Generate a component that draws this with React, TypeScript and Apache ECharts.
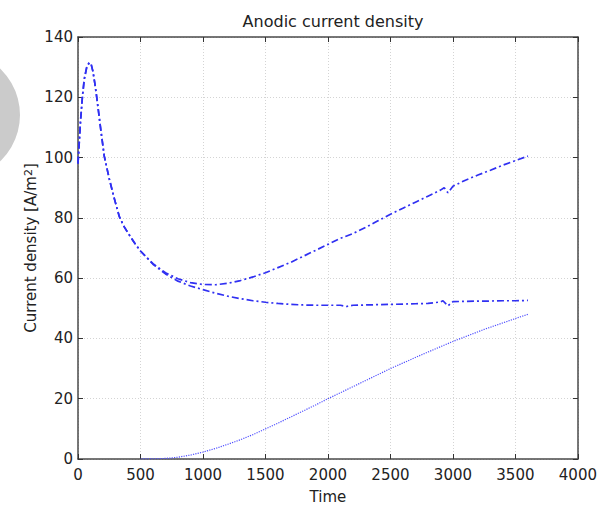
import React, { useEffect, useRef } from "react";
import * as echarts from "echarts";

const xTicks = [0, 500, 1000, 1500, 2000, 2500, 3000, 3500, 4000];
const yTicks = [0, 20, 40, 60, 80, 100, 120, 140];

const timeUpper = [0, 10, 20, 35, 50, 70, 90, 105, 120, 135, 150, 180, 210, 250, 290, 330, 370, 400, 450, 500, 600, 700, 800, 900, 1000, 1100, 1200, 1300, 1400, 1500, 1600, 1700, 1800, 1900, 2000, 2100, 2150, 2200, 2300, 2400, 2500, 2600, 2700, 2800, 2900, 2930, 2960, 3000, 3100, 3200, 3300, 3400, 3500, 3600];
const valUpper = [98, 105, 112, 120, 126, 130, 131.5, 131, 128.5, 124.5, 120, 110, 100.5, 93, 86.5, 80.5, 77, 75, 71.8, 69, 64.8, 61.8, 59.8, 58.5, 57.9, 57.8, 58.3, 59.2, 60.4, 61.8, 63.5, 65.2, 67.2, 69.2, 71.2, 73.2, 74.0, 74.8, 76.8, 79, 81.2, 83.2, 85.2, 87.2, 89.2, 90, 88.3, 90.5, 92.5, 94.2, 95.8, 97.5, 99, 100.5];

const timeLower = [0, 10, 20, 35, 50, 70, 90, 105, 120, 135, 150, 180, 210, 250, 290, 330, 370, 400, 450, 500, 600, 700, 800, 900, 1000, 1100, 1200, 1300, 1400, 1500, 1600, 1700, 1800, 1900, 2000, 2100, 2150, 2200, 2300, 2400, 2500, 2600, 2700, 2800, 2900, 2920, 2960, 3000, 3100, 3200, 3300, 3400, 3500, 3600];
const valLower = [98, 105, 112, 120, 126, 130, 131.5, 131, 128.5, 124.5, 120, 110, 100.5, 93, 86.5, 80.5, 77, 75, 71.8, 69, 64.6, 61.4, 59.0, 57.4, 56.2, 55.0, 54.0, 53.2, 52.5, 52.0, 51.6, 51.3, 51.1, 51.0, 51.0, 51.0, 50.6, 51.0, 51.1, 51.2, 51.3, 51.4, 51.5, 51.6, 52.1, 52.5, 50.8, 52.2, 52.3, 52.4, 52.4, 52.5, 52.5, 52.6];

const timeDotted = [500, 600, 700, 750, 800, 900, 1000, 1100, 1200, 1300, 1400, 1500, 1600, 1700, 1800, 1900, 2000, 2250, 2500, 2750, 3000, 3250, 3500, 3600];
const valDotted = [0, 0.05, 0.2, 0.35, 0.6, 1.3, 2.3, 3.5, 4.9, 6.4, 8.1, 10, 11.9, 13.9, 15.9, 17.9, 20, 25, 30, 34.6, 39, 43, 46.6, 48];

const FONT = "DejaVu Sans";
const BLUE = "#3030f2";

function pairs(xs: number[], ys: number[]) {
  return xs.map((x, i) => [x, ys[i]]);
}

export default function App() {
  const ref = useRef<HTMLDivElement>(null);
  useEffect(() => {
    if (!ref.current) return;
    const chart = echarts.init(ref.current, undefined, { renderer: "svg" });
    const axisLine = { show: true, onZero: false, lineStyle: { color: "#4a4a4a", width: 1.5 } };
    const tick = { show: true, inside: true, length: 5, lineStyle: { color: "#333", width: 1 } };
    const labelStyle = { color: "#222", fontFamily: FONT, fontSize: 15 };
    const plain = (v: number) => String(v);
    chart.setOption({
      animation: false,
      backgroundColor: "#ffffff",
      title: {
        text: "Anodic current density",
        left: 328,
        textAlign: "center",
        top: 8,
        textStyle: { fontFamily: FONT, fontSize: 16, fontWeight: "normal", color: "#222" },
      },
      graphic: [
        {
          type: "circle",
          shape: { cx: -44, cy: 115, r: 64 },
          style: { fill: "#cbcbcb" },
          z: -1,
        },
      ],
      grid: { left: 78, right: 22, top: 37, bottom: 48, containLabel: false },
      xAxis: [
        {
          type: "value",
          min: xTicks[0],
          max: xTicks[xTicks.length - 1],
          interval: 500,
          name: "Time",
          nameLocation: "middle",
          nameGap: 30,
          nameMoveOverlap: false,
          nameTextStyle: { ...labelStyle },
          axisLine,
          axisTick: tick,
          axisLabel: { ...labelStyle, margin: 8, formatter: plain },
          splitLine: { show: true, lineStyle: { color: "#d4d4d4", type: [1, 2], width: 1 } },
        },
        {
          type: "value",
          position: "top",
          min: xTicks[0],
          max: xTicks[xTicks.length - 1],
          interval: 500,
          axisLine,
          axisTick: tick,
          axisLabel: { show: false },
          splitLine: { show: false },
        },
      ],
      yAxis: [
        {
          type: "value",
          min: yTicks[0],
          max: yTicks[yTicks.length - 1],
          interval: 20,
          name: "Current density [A/m{sup|2}]",
          nameLocation: "middle",
          nameGap: 40,
          nameMoveOverlap: false,
          nameTextStyle: {
            ...labelStyle,
            rich: {
              sup: { fontFamily: FONT, fontSize: 11, color: "#222", verticalAlign: "top", lineHeight: 14, padding: [0, 0, 8, 0] },
            },
          },
          axisLine,
          axisTick: tick,
          axisLabel: { ...labelStyle, margin: 5, formatter: plain },
          splitLine: { show: true, lineStyle: { color: "#d4d4d4", type: [1, 2], width: 1 } },
        },
        {
          type: "value",
          position: "right",
          min: yTicks[0],
          max: yTicks[yTicks.length - 1],
          interval: 20,
          axisLine,
          axisTick: tick,
          axisLabel: { show: false },
          splitLine: { show: false },
        },
      ],
      series: [
        {
          type: "line",
          data: pairs(timeUpper, valUpper),
          showSymbol: false,
          lineStyle: { color: BLUE, width: 1.7, type: [7, 3, 2, 3] },
        },
        {
          type: "line",
          data: pairs(timeLower, valLower),
          showSymbol: false,
          lineStyle: { color: BLUE, width: 1.7, type: [7, 3, 2, 3] },
        },
        {
          type: "line",
          data: pairs(timeDotted, valDotted),
          showSymbol: false,
          lineStyle: { color: "#5050ff", width: 1.2, type: [1.2, 1.2] },
        },
      ],
    });
    return () => chart.dispose();
  }, []);
  return <div ref={ref} style={{ position: "fixed", left: 0, top: 0, width: 600, height: 509 }} />;
}
